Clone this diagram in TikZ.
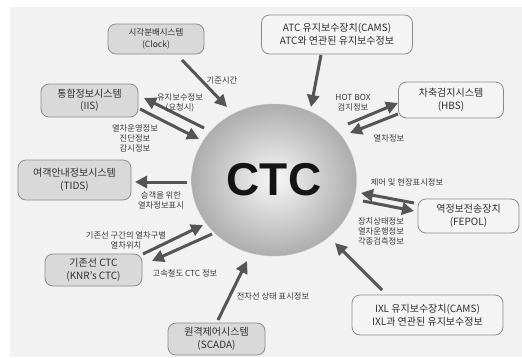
\documentclass[tikz,border=0pt]{standalone}
\usepackage{fontspec}
\setmainfont{Noto Sans CJK KR}
\newfontfamily\ctcfont{Liberation Sans}
\usetikzlibrary{shapes.geometric,arrows.meta,positioning}
\definecolor{bggray}{HTML}{F2F2F2}
\definecolor{boxdark}{HTML}{D9D9D9}
\definecolor{boxlight}{HTML}{F4F4F4}
\definecolor{boxline}{HTML}{8C8C8C}
\definecolor{arrowgray}{HTML}{555555}
\definecolor{textgray}{HTML}{2E2E2E}
\definecolor{labelgray}{HTML}{3A3A3A}
\tikzset{
  sysbox/.style={draw=boxline, rounded corners=8pt, line width=0.8pt, align=center,
    inner sep=0pt, text=textgray, font=\fontsize{10}{12.5}\selectfont},
  darkbox/.style={sysbox, fill=boxdark},
  lightbox/.style={sysbox, fill=boxlight},
  flow/.style={draw=arrowgray, line width=3pt, -{Triangle[length=12pt,width=12pt]}},
  infolabel/.style={font=\fontsize{8.3}{10}\selectfont, text=labelgray, align=center, inner sep=0pt}
}
\begin{document}
\begin{tikzpicture}[x=1pt,y=-1pt]

\useasboundingbox (0,0) rectangle (522,357);
\fill[white] (0,0) rectangle (522,357);
\fill[bggray] (10,7) rectangle (522,357);

% centre
\node[ellipse, minimum width=165pt, minimum height=152pt, inner sep=0pt,
  shading=radial, inner color=white!97!black, outer color=black!32, draw=black!25,
  font=\ctcfont\bfseries\fontsize{46}{46}\selectfont, text=black!92] (ctc) at (274,180) {CTC};

% systems
\node[darkbox, minimum width=96pt, minimum height=30pt, font=\fontsize{8.5}{12}\selectfont] (clock) at (156,39) {시각분배시스템\\(Clock)};
\node[lightbox, minimum width=151pt, minimum height=39pt] (atc) at (337,34.5) {ATC 유지보수장치(CAMS)\\ATC와 연관된 유지보수정보};
\node[lightbox, minimum width=105pt, minimum height=36pt] (hbs) at (451,100) {차축검지시스템\\(HBS)};
\node[darkbox, minimum width=97pt, minimum height=33pt] (iis) at (89.5,100.5) {통합정보시스템\\(IIS)};
\node[darkbox, minimum width=113pt, minimum height=40pt] (tids) at (74.5,180) {여객안내정보시스템\\(TIDS)};
\node[lightbox, minimum width=101pt, minimum height=34pt] (fepol) at (468.5,216) {역정보전송장치\\(FEPOL)};
\node[darkbox, minimum width=97pt, minimum height=32pt] (knr) at (93.5,270) {기존선 CTC\\(KNR's CTC)};
\node[darkbox, minimum width=97pt, minimum height=32pt] (scada) at (216.5,339) {원격제어시스템\\(SCADA)};
\node[lightbox, minimum width=151pt, minimum height=40pt] (ixl) at (427.5,315) {IXL 유지보수장치(CAMS)\\IXL과 연관된 유지보수정보};

% arrow ends
\coordinate (clock-s) at (182,60);   \coordinate (clock-t) at (227,107);
\coordinate (iis-s) at (204,128);    \coordinate (iis-t) at (144,98);
\coordinate (iis2-s) at (140,109);   \coordinate (iis2-t) at (199,139);
\coordinate (tids-s) at (187,182);   \coordinate (tids-t) at (135,182);
\coordinate (knr-s) at (143,254);    \coordinate (knr-t) at (203,225);
\coordinate (knr2-s) at (212,234);   \coordinate (knr2-t) at (152,261);
\coordinate (scada-s) at (218,320);  \coordinate (scada-t) at (247,261);
\coordinate (ixl-s) at (382,290);    \coordinate (ixl-t) at (335,243);
\coordinate (fepol-s) at (414,203);  \coordinate (fepol-t) at (361,193);
\coordinate (fepol2-s) at (363,201); \coordinate (fepol2-t) at (414,211);
\coordinate (hbs-s) at (348,124);    \coordinate (hbs-t) at (398,103);
\coordinate (hbs2-s) at (398,114);   \coordinate (hbs2-t) at (350,133);
\coordinate (atc-s) at (321,55);     \coordinate (atc-t) at (311,107);

\foreach \a in {clock,iis,iis2,tids,knr,knr2,scada,ixl,fepol,fepol2,hbs,hbs2,atc}
  \draw[flow] (\a-s) -- (\a-t);

% labels
\node[infolabel] (l-time) at (222,80) {기준시간};
\node[infolabel] (l-maint) at (180,103) {유지보수정보\\(요청시)};
\node[infolabel] (l-oper) at (135,138) {열차운영정보\\진단정보\\감시정보};
\node[infolabel] (l-pass) at (161,200) {승객을 위한\\열차정보표시};
\node[infolabel] (l-conv) at (126,240.5) {기존선 구간의 열차구별\\열차위치};
\node[infolabel] (l-hsr) at (185,273) {고속철도 CTC 정보};
\node[infolabel] (l-cat) at (273,296) {전차선 상태 표시정보};
\node[infolabel] (l-dev) at (381,231.5) {장치상태정보\\열차운행정보\\각종검측정보};
\node[infolabel] (l-ctrl) at (407,182) {제어 및 현장표시정보};
\node[infolabel] (l-train) at (389,138) {열차정보};
\node[infolabel] (l-hot) at (353,103) {HOT BOX\\검지정보};

\end{tikzpicture}
\end{document}
